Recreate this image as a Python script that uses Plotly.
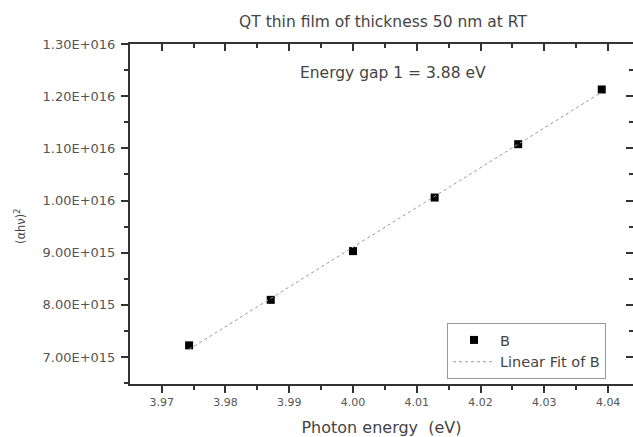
import numpy as np
import plotly.graph_objects as go

# Data
photon_energy = [3.9743, 3.9871, 4.0000, 4.0128, 4.0259, 4.0390]
alpha_hv_sq = [7.224e15, 8.096e15, 9.03e15, 1.0057e16, 1.108e16, 1.2128e16]

x_tickvals = [3.97, 3.98, 3.99, 4.00, 4.01, 4.02, 4.03, 4.04]
x_ticktext = ["3.97", "3.98", "3.99", "4.00", "4.01", "4.02", "4.03", "4.04"]
y_tickvals = [7e15, 8e15, 9e15, 1.0e16, 1.1e16, 1.2e16, 1.3e16]
y_ticktext = ["7.00E+015", "8.00E+015", "9.00E+015", "1.00E+016",
              "1.10E+016", "1.20E+016", "1.30E+016"]

x_range = [3.96503, 4.0439]
y_range = [6.483e15, 1.3e16]

# Linear fit of B
slope, intercept = np.polyfit(photon_energy, alpha_hv_sq, 1)
fit_x = [min(photon_energy), max(photon_energy)]
fit_y = [slope * v + intercept for v in fit_x]

FONT = "DejaVu Sans"
AX = "#333333"
TXT = "#555555"

fig = go.Figure()
fig.add_trace(go.Scatter(
    x=photon_energy, y=alpha_hv_sq, mode="markers", name="B",
    marker=dict(symbol="square", size=8, color="black"),
))
fig.add_trace(go.Scatter(
    x=fit_x, y=fit_y, mode="lines", name="Linear Fit of B",
    line=dict(color="#999999", width=1, dash="dot"),
))
# invisible trace to activate the mirror axes
fig.add_trace(go.Scatter(x=[x_range[0]], y=[y_range[0]], xaxis="x2", yaxis="y2",
                         mode="markers", marker=dict(opacity=0),
                         showlegend=False, hoverinfo="skip"))

common_x = dict(range=x_range, showgrid=False, zeroline=False, showline=True,
                linecolor=AX, linewidth=2, tickcolor=AX, tickwidth=1.5)
common_y = dict(range=y_range, showgrid=False, zeroline=False, showline=True,
                linecolor=AX, linewidth=2, tickcolor=AX, tickwidth=1.5)

fig.update_layout(
    width=633, height=437,
    margin=dict(l=130, r=0, t=44, b=53),
    paper_bgcolor="white", plot_bgcolor="white",
    title=dict(text="QT thin film of thickness 50 nm at RT", x=(383) / 633,
               xanchor="center", y=1 - 22 / 437, yanchor="middle",
               font=dict(family=FONT, size=15.5, color="#444444")),
    xaxis=dict(**common_x, tickmode="array", tickvals=x_tickvals, ticktext=x_ticktext,
               ticks="outside", ticklen=7,
               minor=dict(dtick=0.005, tick0=3.965, ticks="outside", ticklen=4,
                          tickcolor=AX, tickwidth=1.5),
               tickfont=dict(family=FONT, size=11, color=TXT),
               title=dict(text="Photon energy  (eV)", standoff=15,
                          font=dict(family=FONT, size=16, color="#444444"))),
    yaxis=dict(**common_y, tickmode="array", tickvals=y_tickvals, ticktext=y_ticktext,
               ticks="outside", ticklen=7, ticklabelstandoff=3,
               minor=dict(dtick=5e14, tick0=6.5e15, ticks="outside", ticklen=4,
                          tickcolor=AX, tickwidth=1.5),
               tickfont=dict(family=FONT, size=13, color=TXT)),
    xaxis2=dict(**common_x, overlaying="x", side="top", anchor="y",
                tickmode="array", tickvals=x_tickvals, ticks="inside", ticklen=7,
                showticklabels=False,
                minor=dict(dtick=0.005, tick0=3.965, ticks="inside", ticklen=4,
                           tickcolor=AX, tickwidth=1.5)),
    yaxis2=dict(**common_y, overlaying="y", side="right", anchor="x",
                tickmode="array", tickvals=y_tickvals, ticks="inside", ticklen=7,
                showticklabels=False,
                minor=dict(dtick=5e14, tick0=6.5e15, ticks="inside", ticklen=4,
                           tickcolor=AX, tickwidth=1.5)),
    legend=dict(x=(447 - 130) / 503, y=(384 - 323) / 340, xanchor="left", yanchor="top",
                bgcolor="white", bordercolor="#999999", borderwidth=1,
                font=dict(family=FONT, size=14.5, color="#444444"),
                itemwidth=42, tracegroupgap=0),
    annotations=[
        dict(text="Energy gap 1 = 3.88 eV", xref="paper", yref="paper",
             x=(298 - 130) / 503, y=(384 - 73) / 340, xanchor="left",
             yanchor="middle", showarrow=False,
             font=dict(family=FONT, size=15.5, color="#444444")),
        dict(text="(αhν)<sup>2</sup>", xref="paper", yref="paper",
             x=(20 - 130) / 503, y=(384 - 227) / 340, xanchor="center",
             yanchor="middle", textangle=-90, showarrow=False,
             font=dict(family=FONT, size=11.5, color="#444444")),
    ],
)

fig.write_html("out.html")
